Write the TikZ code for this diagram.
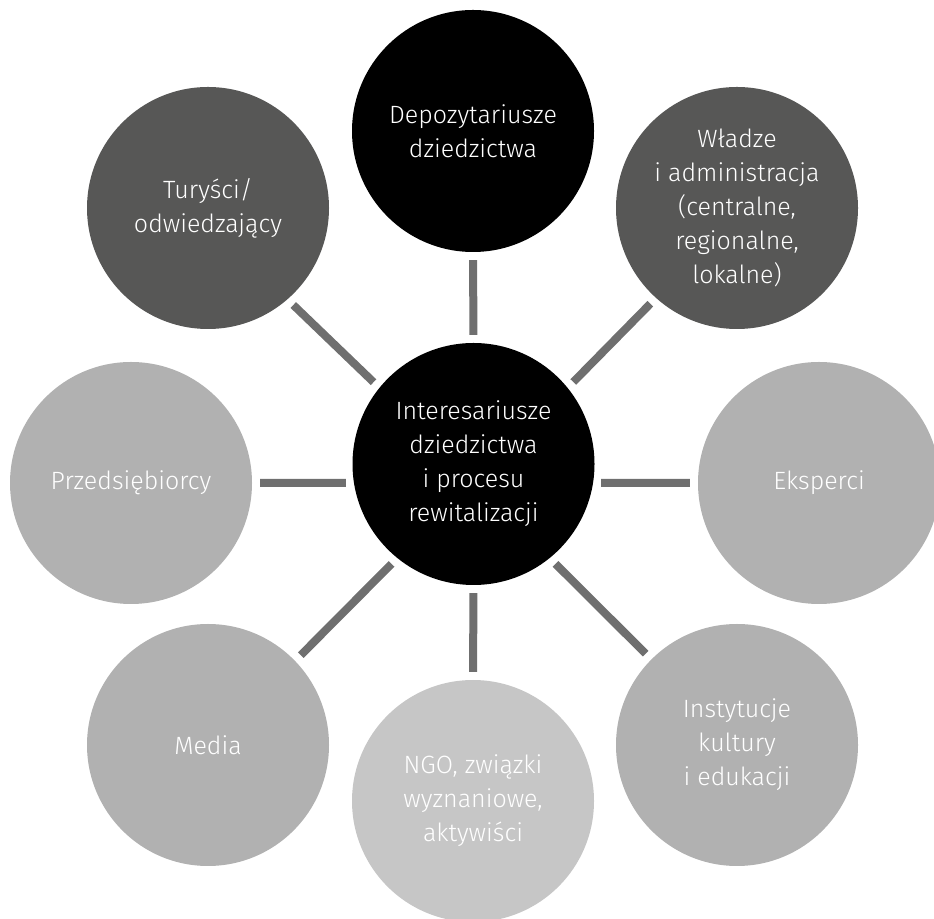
\documentclass[tikz,border=0pt]{standalone}
\usepackage{fontspec}
\setmainfont{Fira Sans Light}
\definecolor{cblack}{HTML}{000000}
\definecolor{cdark}{HTML}{575756}
\definecolor{cmid}{HTML}{B1B1B1}
\definecolor{clight}{HTML}{C6C6C6}
\definecolor{cline}{HTML}{6F6F6F}
\begin{document}
\begin{tikzpicture}[x=1pt,y=1pt,
  bubble/.style={circle,minimum size=242pt,inner sep=0pt,text=white,align=center,
    font=\fontsize{25}{34}\selectfont},
  conn/.style={draw=cline,line width=8pt,shorten <=8pt,shorten >=8pt}]
\useasboundingbox (0,0) rectangle (934,918);
\node[bubble,fill=cblack] (c) at (473.5,454) {Interesariusze\\dziedzictwa\\i procesu\\rewitalizacji};
\node[bubble,fill=cblack] (top) at (473,787) {Depozytariusze\\dziedzictwa};
\node[bubble,fill=cdark] (tr) at (737,710) {Władze\\i administracja\\(centralne,\\regionalne,\\lokalne)};
\node[bubble,fill=cmid] (r) at (819,435) {Eksperci};
\node[bubble,fill=cmid] (br) at (737,173) {Instytucje\\kultury\\i edukacji};
\node[bubble,fill=clight] (b) at (473,117) {NGO, związki\\wyznaniowe,\\aktywiści};
\node[bubble,fill=cmid] (bl) at (208,173) {Media};
\node[bubble,fill=cmid] (l) at (131,435) {Przedsiębiorcy};
\node[bubble,fill=cdark] (tl) at (208,710) {Turyści/\\odwiedzający};
\draw[conn] (c.north) -- (top.south);
\draw[conn] (c.south) -- (b.north);
\draw[conn] (c.189) -- (l.east);
\draw[conn] (c.351) -- (r.west);
\draw[conn] (c.141) -- (tl.311);
\draw[conn] (c.39) -- (tr.228);
\draw[conn] (c.231) -- (bl.44);
\draw[conn] (c.309) -- (br.135);
\end{tikzpicture}
\end{document}
